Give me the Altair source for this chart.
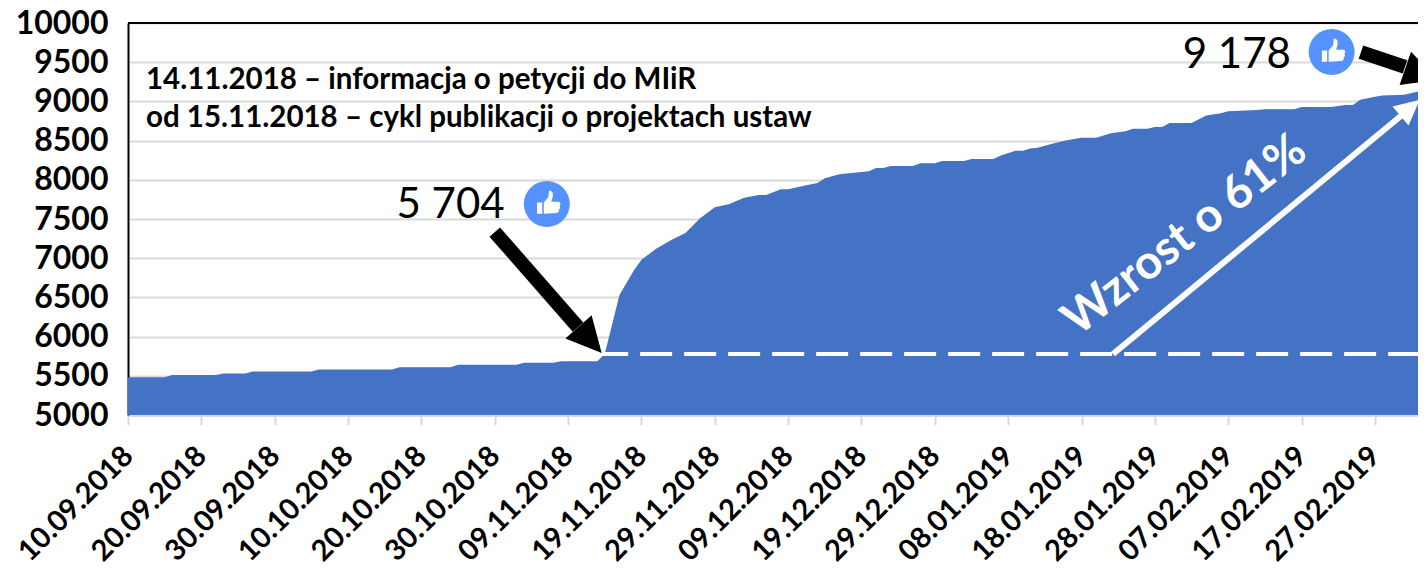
import altair as alt
import pandas as pd

START = "2018-09-10"
FONT = "Lato"

days = [0,5,6,12,13,16,17,25,26,36,37,44,45,53,54,58,59,64,65,66,67,69,70,72,74,76,78,80,82,84,86,87,89,90,92,94,95,97,99,101,102,103,104,107,108,110,111,114,115,118,119,121,122,123,124,126,128,129,130,132,134,136,137,139,140,141,142,145,147,149,150,154,155,159,160,164,166,167,168,170,171,174,176,177]
values = [5480,5480,5510,5510,5530,5530,5555,5555,5580,5580,5610,5610,5640,5640,5665,5665,5685,5685,5780,6150,6530,6850,6980,7120,7230,7320,7510,7650,7690,7770,7805,7805,7880,7880,7920,7960,8020,8070,8090,8110,8150,8150,8175,8175,8210,8210,8240,8240,8265,8265,8310,8370,8370,8400,8410,8460,8505,8520,8535,8535,8595,8620,8650,8650,8675,8675,8725,8725,8820,8850,8875,8890,8900,8900,8930,8930,8955,8955,9020,9060,9075,9085,9130,9165]

y_ticks = list(range(5000, 10001, 500))
x_tick_days = list(range(0, 171, 10))

info_lines = ["14.11.2018 – informacja o petycji do MIiR", "od 15.11.2018 – cykl publikacji o projektach ustaw"]
info_days = [2.45, 2.45]
info_vals = [9273, 8788]

count_labels = ["5 704", "9 178"]
count_days = [36.6, 143.8]
count_vals = [7679, 9592]

badge_days = [57.1, 164.1]
badge_vals = [7691, 9630]

THUMB = ("M-0.65,-0.1 L-0.3,-0.1 L-0.3,0.65 L-0.65,0.65 Z "
         "M-0.2,-0.1 L0.1,-0.45 L0.15,-0.9 Q0.45,-0.9 0.4,-0.5 L0.3,-0.15 L0.8,-0.15 "
         "Q1,-0.05 0.85,0.1 Q0.95,0.3 0.8,0.35 Q0.85,0.55 0.65,0.6 L-0.2,0.65 Z")
HEAD = "M0,-1 L1,1 L-1,1 Z"


def to_dates(d):
    return pd.Timestamp(START) + pd.to_timedelta(pd.Series(d, dtype=float), unit="D")


def frame(d, v, **extra):
    return pd.DataFrame({"date": to_dates(d), "value": v, **extra})


x_scale = alt.Scale(domain=[alt.DateTime(year=2018, month=9, date=10),
                            alt.DateTime(year=2019, month=3, date=4, hours=21)])
y_scale = alt.Scale(domain=[5000, 10000], nice=False, zero=False)

tick_values = [alt.DateTime(year=int(t.year), month=int(t.month), date=int(t.day))
               for t in to_dates(x_tick_days)]

x_axis = alt.Axis(
    values=tick_values, format="%d.%m.%Y", labelAngle=-45, labelAlign="right", labelBaseline="middle",
    labelFont=FONT, labelFontWeight="bold", labelFontSize=29, labelColor="#000000", labelPadding=26,
    labelOverlap=False, labelBound=False, labelFlush=False, grid=False,
    tickColor="#d9d9d9", tickSize=10, tickWidth=2, domainColor="#d9d9d9", domainWidth=3)
y_axis = alt.Axis(
    values=y_ticks, format="d", labelFont=FONT, labelFontWeight="bold", labelFontSize=32,
    labelColor="#000000", labelPadding=20, labelOverlap=False, labelBound=False, labelFlush=False,
    ticks=False, domainColor="#000000", domainWidth=2, grid=True, gridColor="#d9d9d9", gridWidth=2)

X = alt.X("date:T", scale=x_scale, title=None, axis=x_axis)
Y = alt.Y("value:Q", scale=y_scale, title=None, axis=y_axis)

area_df = frame(days, values, base=[5000] * len(days))
area = alt.Chart(area_df).mark_area(color="#4472c4", opacity=1, interpolate="linear").encode(
    x=X, y=Y, y2="base:Q")

top_rule = alt.Chart(frame([0, 177], [10000, 10000])).mark_line(color="#000000", strokeWidth=2).encode(x=X, y=Y)
dash = alt.Chart(frame([64.1, 177], [5778, 5778])).mark_line(
    color="#ffffff", strokeWidth=4, strokeDash=[32, 12], strokeDashOffset=2).encode(x=X, y=Y)


def shaft(d, v, color, w):
    return alt.Chart(frame(d, v)).mark_line(color=color, strokeWidth=w).encode(x=X, y=Y)


def symbol(d, v, shape, size, color, angle=0):
    return alt.Chart(frame([d], [v])).mark_point(
        shape=shape, size=size, filled=True, color=color, opacity=1, strokeWidth=0, angle=angle).encode(x=X, y=Y)


arrows = [
    shaft([50.0, 61.35], [7334, 6122], "#000000", 14),
    symbol(63.0, 5957, HEAD, 1225, "#000000", 138.5),
    shaft([168.1, 174.1], [9630, 9439], "#000000", 14),
    symbol(176.4, 9349, HEAD, 1225, "#000000", 109),
    shaft([134.3, 173.7], [5778, 8827], "#ffffff", 6),
    symbol(174.8, 8916, HEAD, 625, "#ffffff", 50),
]

badges = []
for d, v in zip(badge_days, badge_vals):
    badges.append(symbol(d, v, "circle", 2116, "#5591ff"))
    badges.append(symbol(d, v, THUMB, 900, "#ffffff"))

info = alt.Chart(frame(info_days, info_vals, label=info_lines)).mark_text(
    align="left", baseline="middle", font=FONT, fontWeight="bold", fontSize=29.5, color="#000000").encode(
    x=X, y=Y, text="label:N")
counts = alt.Chart(frame(count_days, count_vals, label=count_labels)).mark_text(
    align="left", baseline="middle", font=FONT, fontSize=42, color="#000000").encode(
    x=X, y=Y, text="label:N")
growth = alt.Chart(frame([144.1], [7290], label=["Wzrost o 61%"])).mark_text(
    align="center", baseline="middle", font=FONT, fontWeight="bold", fontSize=47, color="#ffffff", angle=322).encode(
    x=X, y=Y, text="label:N")

chart = alt.layer(area, top_rule, dash, *arrows, *badges, info, counts, growth).properties(
    width=1290, height=392,
    autosize=alt.AutoSizeParams(type="none"),
    padding={"left": 120, "top": 15, "right": 0, "bottom": 155},
).configure_view(stroke=None).configure(background="#ffffff")

chart.save("out.html", embed_options={"renderer": "svg", "actions": False})
